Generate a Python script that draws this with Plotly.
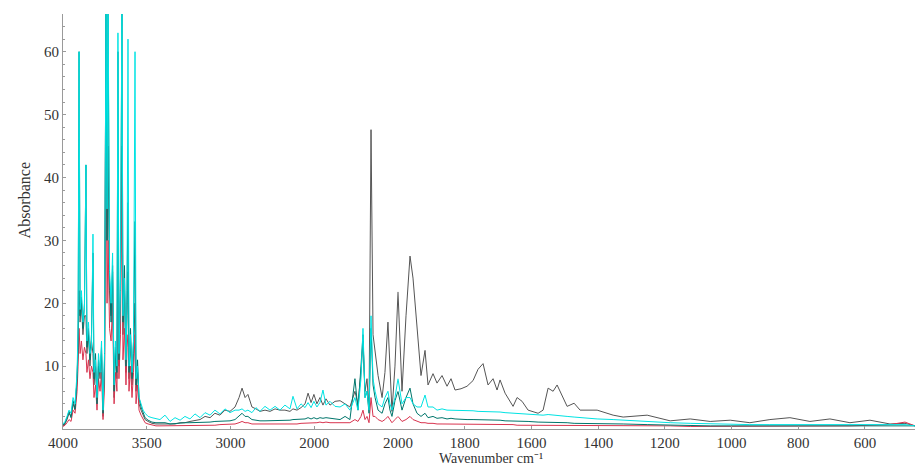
import numpy as np
import plotly.graph_objects as go

# wavenumber grid (cm-1)
wn = [4000, 3988, 3976, 3964, 3952, 3940, 3928, 3916, 3910, 3904, 3898, 3890, 3881, 3872, 3863, 3857,
      3848, 3839, 3830, 3821, 3815, 3806, 3797, 3788, 3779, 3770, 3761, 3752, 3743, 3737, 3731, 3722,
      3713, 3704, 3695, 3687, 3678, 3672, 3666, 3657, 3648, 3642, 3633, 3624, 3618, 3612, 3606, 3597,
      3588, 3579, 3570, 3564, 3555, 3546, 3534, 3522, 3510, 3492, 3469, 3445,
      3421, 3391, 3361, 3331, 3301, 3272, 3242, 3212, 3182, 3152, 3122, 3093, 3063, 3033, 3003, 2973,
      2949, 2931, 2913, 2896, 2872, 2848, 2824, 2794, 2764, 2734, 2705, 2675, 2645, 2627, 2603, 2579,
      2555, 2537, 2519, 2502, 2484, 2466, 2448, 2430, 2406, 2376,
      2346, 2316, 2287, 2257, 2239, 2221, 2209, 2197, 2185, 2173, 2161, 2149, 2137, 2119, 2095, 2078,
      2060, 2048, 2036, 2018, 2000,
      1988, 1976, 1964, 1955, 1943, 1931, 1919, 1910, 1895, 1883, 1868, 1853, 1841, 1829, 1811, 1793,
      1775, 1760, 1745, 1730, 1715, 1703, 1694, 1679, 1655, 1643, 1628, 1610, 1580, 1565, 1550, 1535,
      1523, 1508, 1493, 1472, 1454, 1403, 1355, 1325, 1253, 1184, 1124, 1064, 1004, 945, 885, 825,
      765, 705, 645, 585, 525, 480, 450]

gray = [0.5, 0.8, 1.5, 2.5, 2.0, 4.0, 3.0, 8, 14, 22, 17, 20, 15, 18, 18, 12,
        16, 10, 14, 12, 7, 10, 4, 11, 8, 13, 2, 10, 70, 30, 45, 22,
        18, 25, 5, 12, 8, 30, 10, 20, 45, 15, 22, 9, 18, 25, 8, 14,
        7, 12, 20, 6, 9, 4, 3, 2.2, 1.5, 1.2, 0.9, 0.8,
        0.8, 0.8, 0.7, 0.8, 1.0, 1.0, 1.2, 1.3, 1.5, 2.0, 1.8, 2.5, 2.2, 3.0, 2.8, 3.5,
        5.0, 6.5, 5.0, 5.5, 3.5, 3.2, 2.8, 3.0, 2.8, 3.2, 3.0, 3.0, 2.8, 3.2, 3.0, 3.4,
        4.0, 5.7, 4.2, 5.5, 4.0, 5.0, 3.8, 4.8, 3.8, 4.4,
        4.5, 4.0, 3.5, 6.0, 4.0, 9.0, 14, 6.0, 8.0, 3.0, 47.6, 15, 12, 8.5, 5.0, 9.0,
        17, 9.0, 2.8, 10, 21.8,
        6.0, 18, 27.5, 24, 15.5, 8.5, 12.5, 7.0, 8.8, 7.3, 8.5, 6.8, 8.0, 6.2, 6.4, 6.8,
        7.7, 9.5, 10.4, 7.0, 8.0, 6.2, 7.8, 5.7, 3.6, 5.0, 4.4, 3.0, 2.5, 3.0, 6.5, 6.0,
        7.0, 5.4, 3.6, 4.1, 3.0, 3.0, 2.2, 1.9, 2.2, 1.3, 1.6, 1.2, 1.4, 1.0, 1.5, 1.8,
        1.2, 1.6, 1.0, 1.4, 0.8, 0.9, 0.5]

red = [0.4, 0.6, 1.0, 1.5, 1.2, 3.0, 2.5, 6, 10, 16, 12, 14, 11, 13, 12, 9,
       11, 8, 10, 9, 5, 7, 3, 8, 6, 9, 1.5, 7, 49, 20, 30, 16,
       14, 20, 4, 9, 6, 20, 8, 15, 40, 11, 16, 7, 13, 15, 6, 10,
       5, 9, 15, 4, 7, 3, 2.2, 1.5, 1.0, 0.8, 0.6, 0.5,
       0.5, 0.5, 0.5, 0.5, 0.5, 0.5, 0.6, 0.6, 0.6, 0.6, 0.6, 0.6, 0.7, 0.7, 0.7, 0.8,
       1.0, 1.2, 1.0, 1.0, 0.8, 0.8, 0.7, 0.7, 0.7, 0.7, 0.7, 0.8, 0.8, 0.8, 0.8, 0.9,
       0.9, 1.0, 1.0, 1.0, 1.0, 1.1, 1.0, 1.1, 1.0, 1.0,
       1.0, 1.0, 1.0, 1.5, 1.2, 2.0, 3.0, 1.5, 2.0, 1.0, 5.0, 2.0, 2.0, 1.5, 1.2, 1.5,
       2.0, 1.5, 1.0, 1.5, 2.0,
       1.2, 1.5, 2.0, 1.5, 1.2, 1.0, 1.0, 0.9, 0.9, 0.8, 0.8, 0.8, 0.8, 0.7, 0.7, 0.7,
       0.7, 0.7, 0.7, 0.7, 0.7, 0.7, 0.7, 0.7, 0.7, 0.6, 0.6, 0.6, 0.6, 0.6, 0.6, 0.6,
       0.6, 0.6, 0.6, 0.6, 0.5, 0.5, 0.5, 0.5, 0.5, 0.5, 0.4, 0.4, 0.4, 0.4, 0.4, 0.4,
       0.4, 0.4, 0.5, 0.6, 0.7, 1.1, 0.5]

cyan = [0.8, 1.2, 2.0, 3.0, 2.5, 5.0, 4.0, 9, 16, 60, 19, 22, 17, 19, 42, 14,
        17, 12, 13, 31, 9, 11, 5, 12, 9, 14, 3, 12, 70, 35, 70, 25,
        20, 28, 7, 14, 10, 63, 12, 22, 70, 18, 24, 11, 20, 62, 10, 15,
        9, 14, 60, 8, 10, 5, 4, 3, 2.5, 2.0, 1.8, 1.6,
        1.5, 2.2, 1.2, 1.8, 1.4, 2.0, 1.6, 2.4, 1.8, 2.6, 2.2, 3.0, 2.4, 3.2, 2.6, 3.0,
        3.0, 3.2, 2.8, 3.0, 2.6, 3.4, 2.8, 3.6, 3.0, 3.6, 3.0, 3.8, 3.2, 5.2, 3.2, 4.0,
        3.4, 4.2, 3.4, 4.4, 3.5, 4.2, 6.2, 3.8, 4.4, 3.6,
        3.5, 4.0, 3.0, 5.0, 3.0, 8.0, 16, 5.0, 6.0, 3.0, 18, 8.0, 6.0, 4.0, 3.5, 5.0,
        6.0, 4.0, 3.0, 5.0, 8.0,
        4.0, 5.0, 5.0, 4.0, 3.5, 3.5, 5.4, 3.5, 3.5, 3.0, 3.2, 3.0, 3.0, 2.9, 2.9, 2.9,
        2.9, 2.8, 2.8, 2.8, 2.8, 2.7, 2.7, 2.6, 2.5, 2.5, 2.4, 2.3, 2.2, 2.2, 2.3, 2.2,
        2.2, 2.1, 2.0, 1.9, 1.8, 1.6, 1.5, 1.4, 1.2, 1.0, 0.9, 0.8, 0.8, 0.7, 0.7, 0.7,
        0.6, 0.6, 0.6, 0.6, 0.6, 0.7, 0.5]

teal = [0.6, 1.0, 1.8, 2.8, 1.8, 4.5, 3.2, 8, 13, 60, 18, 21, 16, 20, 42, 13,
        15, 11, 15, 28, 8, 12, 4, 10, 9, 12, 2.5, 11, 70, 30, 66, 24,
        17, 26, 6, 13, 9, 60, 11, 24, 66, 17, 26, 10, 22, 36, 9, 16,
        8, 14, 33, 7, 11, 5, 3.5, 2.5, 1.8, 1.4, 1.1, 1.0,
        1.0, 1.0, 0.8, 0.9, 0.9, 1.0, 1.0, 1.0, 1.1, 1.1, 1.1, 1.2, 1.2, 1.2, 1.3, 1.5,
        2.0, 2.5, 2.0, 2.0, 1.5, 1.4, 1.3, 1.3, 1.3, 1.3, 1.3, 1.4, 1.4, 1.5, 1.5, 1.5,
        1.6, 1.8, 1.6, 1.8, 1.6, 1.8, 1.7, 1.8, 1.7, 1.6,
        1.5, 2.0, 1.5, 8.0, 3.0, 10, 15, 5.0, 6.0, 2.5, 16, 7.0, 5.0, 3.0, 2.5, 4.0,
        5.0, 3.0, 2.0, 4.5, 6.0,
        3.0, 5.0, 6.5, 4.0, 2.5, 2.0, 2.5, 1.8, 2.0, 1.7, 1.8, 1.6, 1.7, 1.6, 1.5, 1.5,
        1.5, 1.5, 1.5, 1.4, 1.4, 1.4, 1.4, 1.3, 1.3, 1.3, 1.2, 1.2, 1.1, 1.1, 1.1, 1.0,
        1.0, 1.0, 1.0, 0.9, 0.9, 0.8, 0.8, 0.8, 0.7, 0.6, 0.6, 0.5, 0.5, 0.5, 0.5, 0.5,
        0.5, 0.5, 0.5, 0.5, 0.5, 0.6, 0.5]

series = [("gray", gray, "#555555"), ("red", red, "#d8344f"),
          ("teal", teal, "#00756b"), ("cyan", cyan, "#00e3e3")]

left_ticks = [4000, 3500, 3000, 2500]
left_text = ["4000", "3500", "3000", "2000"]
right_ticks = [2000, 1800, 1600, 1400, 1200, 1000, 800, 600]
right_text = ["2000", "1800", "1600", "1400", "1200", "1000", "800", "600"]
y_ticks = [10, 20, 30, 40, 50, 60]

wn_arr = np.array(wn, dtype=float)
fig = go.Figure()
for name, vals, col in series:
    v = np.array(vals, dtype=float)
    mL = wn_arr >= 2000
    mR = wn_arr <= 2000
    fig.add_trace(go.Scatter(x=wn_arr[mL], y=v[mL], mode="lines", name=name,
                             line=dict(color=col, width=1), xaxis="x", yaxis="y",
                             showlegend=False))
    fig.add_trace(go.Scatter(x=wn_arr[mR], y=v[mR], mode="lines", name=name,
                             line=dict(color=col, width=1), xaxis="x2", yaxis="y",
                             showlegend=False))

split = 335 / 852
tickfont = dict(family="Liberation Serif", size=15, color="#333333")
axcommon = dict(showline=True, linecolor="#9a9a9a", linewidth=1, showgrid=False,
                zeroline=False, ticks="inside", ticklen=3, tickcolor="#9a9a9a",
                tickfont=tickfont)
fig.update_layout(
    width=923, height=468,
    margin=dict(l=63, r=8, t=14, b=39),
    paper_bgcolor="white", plot_bgcolor="white",
    xaxis=dict(domain=[0, split], range=[4000, 2000], tickvals=left_ticks,
               ticktext=left_text, anchor="y", ticklabelstandoff=0, **axcommon),
    xaxis2=dict(domain=[split, 1], range=[2000, 450], tickvals=right_ticks,
                ticktext=right_text, anchor="y", ticklabelstandoff=0, **axcommon),
    yaxis=dict(range=[0, 66], tickvals=y_ticks, anchor="x",
               minor=dict(dtick=2, ticks="inside", ticklen=2, tickcolor="#9a9a9a"),
               **axcommon),
    annotations=[
        dict(text="Wavenumber cm\u207b\u00b9", xref="paper", yref="paper",
             x=0.502, y=-0.093, xanchor="center", yanchor="bottom", showarrow=False,
             font=dict(family="Liberation Serif", size=14, color="#333333")),
        dict(text="Absorbance", xref="paper", yref="paper", x=-0.045, y=0.55,
             xanchor="center", yanchor="middle", textangle=-90, showarrow=False,
             font=dict(family="Liberation Serif", size=16, color="#333333")),
    ],
)
fig.write_html("out.html")
